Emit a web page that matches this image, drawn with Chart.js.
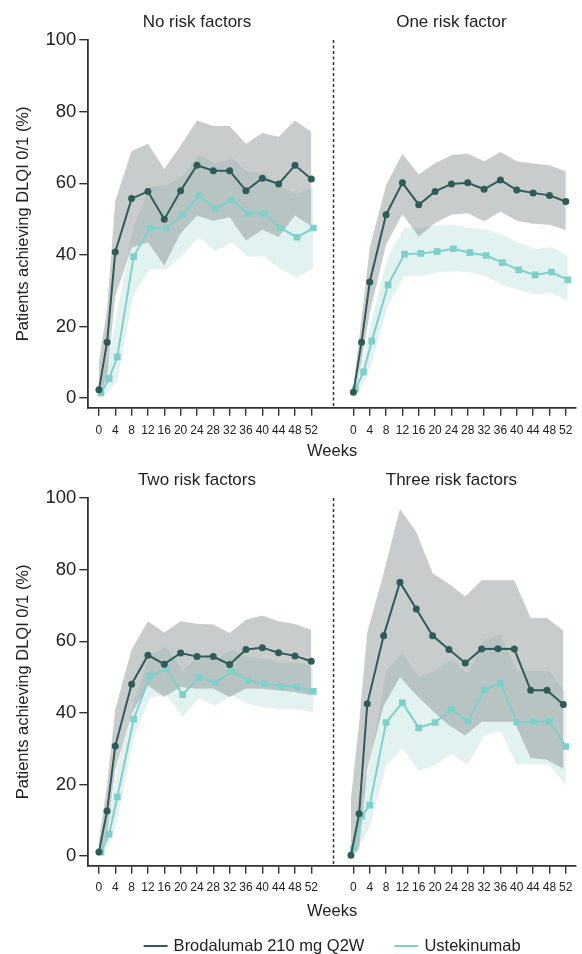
<!DOCTYPE html>
<html lang="en">
<head>
  <meta charset="UTF-8">
  <meta name="viewport" content="width=device-width, initial-scale=1.0">
  <title>DLQI 0/1 response by number of risk factors</title>
  <script src="https://cdn.jsdelivr.net/npm/chart.js@4"></script>
  <style>
    html, body { margin: 0; padding: 0; background: #fff; overflow: hidden; }
    .row { position: absolute; left: 0; width: 582px; }
    #row1 { top: 0; height: 460px; }
    #row2 { top: 458px; height: 496px; }
  </style>
</head>
<body>
  <div class="row" id="row1"><canvas id="topChart"></canvas></div>
  <div class="row" id="row2"><canvas id="bottomChart"></canvas></div>

  <script>
    // assessment weeks and axis ticks
    const weeks = [0, 2, 4, 8, 12, 16, 20, 24, 28, 32, 36, 40, 44, 48, 52];
    const weekTicks = [0, 4, 8, 12, 16, 20, 24, 28, 32, 36, 40, 44, 48, 52];
    const yTicks = [0, 20, 40, 60, 80, 100];

    const panelTitles = ['No risk factors', 'One risk factor', 'Two risk factors', 'Three risk factors'];
    const seriesNames = ['Brodalumab 210 mg Q2W', 'Ustekinumab'];

    // No risk factors
    const noneBrod   = [2.3, 15.6, 40.8, 55.7, 57.7, 49.9, 57.9, 65.0, 63.5, 63.5, 57.9, 61.4, 59.8, 65.0, 61.2];
    const noneBrodHi = [10, 25, 55, 69, 71, 64, 70.5, 77.5, 76, 76, 71, 74, 73, 77.5, 74.3];
    const noneBrodLo = [0, 6, 28.5, 42, 43.5, 37, 46, 51, 49.5, 50.5, 44, 47, 45, 51, 48];
    const noneUste   = [1.4, 5.4, 11.5, 39.5, 47.5, 47.5, 51.2, 56.5, 52.8, 55.3, 51.6, 51.6, 47.5, 44.9, 47.5];
    const noneUsteHi = [5, 12, 24, 48, 59, 59.5, 62, 68, 65.5, 67, 63, 63, 59, 57, 59];
    const noneUsteLo = [0, 2, 5, 29, 36, 36, 40, 45, 41, 43.5, 39.5, 39.5, 36, 33.7, 36.3];

    // One risk factor
    const oneBrod   = [1.6, 15.6, 32.4, 51.2, 60.1, 54.0, 57.7, 59.8, 60.1, 58.3, 60.9, 58.1, 57.3, 56.6, 54.9];
    const oneBrodHi = [3, 22, 42, 59.4, 68.2, 62.4, 65.6, 67.8, 68.2, 66.1, 68.7, 66.1, 65.5, 65, 63.3];
    const oneBrodLo = [0.5, 10, 23.8, 42.8, 51.4, 45.1, 48.9, 51.2, 51.7, 49.3, 52.1, 49.5, 48.7, 48.4, 46.9];
    const oneUste   = [2.5, 7.3, 15.9, 31.6, 40.2, 40.4, 40.9, 41.7, 40.6, 39.8, 37.8, 35.8, 34.4, 35.2, 33.0];
    const oneUsteHi = [3.5, 11, 22, 39.6, 47.6, 47.5, 48.1, 48.4, 47.5, 47, 45.6, 43.3, 41.6, 42.2, 39.6];
    const oneUsteLo = [1, 4, 10, 26, 34, 34, 35.1, 35.4, 35.1, 34, 31.6, 30.3, 28.9, 29.4, 27];

    // Two risk factors
    const twoBrod   = [1.1, 12.6, 30.7, 48.0, 56.1, 53.6, 56.7, 55.7, 55.7, 53.5, 57.7, 58.2, 56.8, 55.9, 54.4];
    const twoBrodHi = [4, 20, 41, 57.7, 65.6, 62.4, 65.6, 64.9, 64.7, 62.3, 66, 67.2, 65.6, 64.8, 63.2];
    const twoBrodLo = [0, 6, 24, 39.8, 47.7, 44.4, 47.2, 46.7, 46.8, 44.4, 46.8, 46.7, 46.2, 45.8, 44.9];
    const twoUste   = [1.1, 6.1, 16.5, 38.2, 50.3, 52.3, 45.1, 49.9, 48.4, 51.6, 49.1, 48.2, 47.5, 47.2, 46.0];
    const twoUsteHi = [3, 11, 25, 43, 56, 58.5, 51.7, 56, 55, 57.5, 55.5, 55, 54, 54, 52.8];
    const twoUsteLo = [0, 3, 10, 33, 44.2, 45, 38.8, 44.1, 42, 45, 42.5, 41.5, 41, 41, 40];

    // Three risk factors
    const threeBrod   = [0.2, 11.8, 42.5, 61.5, 76.5, 69.0, 61.5, 57.7, 53.9, 57.8, 57.9, 57.8, 46.3, 46.3, 42.3];
    const threeBrodHi = [16, 37, 62.5, 79, 97, 90.5, 79, 76, 72.5, 77, 77, 77, 66.5, 66.5, 63];
    const threeBrodLo = [0, 2, 24, 42, 50, 45, 40.6, 36.5, 33.7, 37.5, 37.5, 37.5, 27.4, 26.9, 24.4];
    const threeUste   = [2.1, 11.1, 14.2, 37.3, 42.8, 35.8, 37.3, 41.0, 37.6, 46.4, 48.3, 37.4, 37.6, 37.6, 30.6];
    const threeUsteHi = [5, 18, 25, 51.7, 56.7, 50, 51.9, 54.9, 50.9, 60.3, 62, 51.7, 51.7, 51.7, 45.4];
    const threeUsteLo = [0, 4, 8, 25.3, 30, 23.9, 25.3, 28.6, 25.6, 33.7, 34.9, 25.6, 25.6, 25.6, 19.7];

    // right-hand panel sits on the same x axis, shifted by SHIFT weeks
    const SHIFT = 62.3;
    const FONT = "'Liberation Sans', Arial, sans-serif";
    const colors = {
      brod: '#2f5b58',
      uste: '#7fcfca',
      brodBand: 'rgba(112, 122, 122, 0.38)',
      usteBand: '#e2f2f1',
      axis: '#333',
      text: '#222'
    };

    Chart.defaults.font.family = FONT;
    Chart.defaults.color = colors.text;
    Chart.defaults.animation = false;

    function pts(ys, dx) {
      return ys.map((y, i) => ({ x: weeks[i] + dx, y: y }));
    }

    function band(ys, dx, color, fill) {
      return {
        label: 'band', data: pts(ys, dx), pointRadius: 0, borderWidth: 0,
        borderColor: 'transparent', backgroundColor: color, fill: fill, tension: 0
      };
    }

    // one panel = two lines + two confidence bands
    function panelDatasets(p, shift) {
      const bx = shift + p.brodDx, ux = shift + p.usteDx;
      return [
        { label: seriesNames[0], data: pts(p.brod, bx), borderColor: colors.brod, backgroundColor: colors.brod,
          borderWidth: 2, pointRadius: 2.5, pointStyle: 'circle', fill: false, tension: 0 },
        { label: seriesNames[1], data: pts(p.uste, ux), borderColor: colors.uste, backgroundColor: colors.uste,
          borderWidth: 2, pointRadius: 3.3, pointStyle: 'rect', fill: false, tension: 0 },
        band(p.brodHi, bx, colors.brodBand, '+1'),
        band(p.brodLo, bx, colors.brodBand, false),
        band(p.usteHi, ux, colors.usteBand, '+1'),
        band(p.usteLo, ux, colors.usteBand, false)
      ];
    }

    // panel titles, centred over week 24 of each panel
    const titlePlugin = {
      id: 'panelTitles',
      afterDraw(chart, args, opts) {
        const { ctx } = chart;
        const x = chart.scales.x;
        ctx.save();
        ctx.font = '17px ' + FONT;
        ctx.fillStyle = colors.text;
        ctx.textAlign = 'center';
        ctx.textBaseline = 'middle';
        opts.titles.forEach((t, i) => ctx.fillText(t, x.getPixelForValue(24 + i * SHIFT), opts.y));
        ctx.restore();
      }
    };

    // dotted divider between the two panels
    const dividerPlugin = {
      id: 'divider',
      afterDatasetsDraw(chart) {
        const { ctx, chartArea } = chart;
        const px = Math.round(chart.scales.x.getPixelForValue(SHIFT - 5)) + 0.5;
        ctx.save();
        ctx.strokeStyle = colors.axis;
        ctx.lineWidth = 1.5;
        ctx.setLineDash([3, 2.5]);
        ctx.beginPath();
        ctx.moveTo(px, chartArea.top);
        ctx.lineTo(px, chartArea.bottom);
        ctx.stroke();
        ctx.restore();
      }
    };

    // legend at the foot of the figure (two line keys)
    const legendPlugin = {
      id: 'footLegend',
      afterDraw(chart, args, opts) {
        if (!opts.show) return;
        const { ctx, chartArea } = chart;
        ctx.save();
        ctx.font = '16.5px ' + FONT;
        const keyW = 24, keyGap = 6, itemGap = 30;
        const widths = seriesNames.map(s => keyW + keyGap + ctx.measureText(s).width);
        const total = widths[0] + itemGap + widths[1];
        let x = (chartArea.left + chartArea.right) / 2 - total / 2;
        const y = opts.y;
        [colors.brod, colors.uste].forEach((c, i) => {
          ctx.fillStyle = c;
          ctx.fillRect(x, y - 1, keyW, 2);
          ctx.fillStyle = colors.text;
          ctx.textAlign = 'left';
          ctx.textBaseline = 'middle';
          ctx.fillText(seriesNames[i], x + keyW + keyGap, y);
          x += widths[i] + itemGap;
        });
        ctx.restore();
      }
    };

    function makeRow(canvasId, left, right, titles, cfg) {
      const ctx = document.getElementById(canvasId).getContext('2d');
      return new Chart(ctx, {
        type: 'line',
        data: { datasets: [...panelDatasets(left, 0), ...panelDatasets(right, SHIFT)] },
        plugins: [titlePlugin, dividerPlugin, legendPlugin],
        options: {
          responsive: true,
          maintainAspectRatio: false,
          layout: { padding: { top: 40, left: 0, right: 0, bottom: cfg.bottomPad } },
          plugins: {
            legend: { display: false },
            tooltip: { enabled: false },
            panelTitles: { titles: titles, y: 22.5 },
            footLegend: { show: cfg.legend, y: 488 }
          },
          scales: {
            x: {
              type: 'linear',
              bounds: 'data',
              min: -2.6,
              max: 116.8,
              afterBuildTicks: s => { s.ticks = [...weekTicks, ...weekTicks.map(w => w + SHIFT)].map(v => ({ value: v })); },
              afterFit: s => { s.height = 52.3; },
              ticks: {
                autoSkip: false, maxRotation: 0, padding: cfg.tickPad,
                font: { size: 12 }, color: colors.text,
                callback: v => v > SHIFT - 6 ? Math.round(v - SHIFT) : v
              },
              grid: { drawOnChartArea: false, tickLength: 8, color: colors.axis, lineWidth: 1.4 },
              border: { color: colors.axis, width: 1.8 },
              title: { display: true, text: 'Weeks', color: colors.text,
                       font: { size: 16.5, lineHeight: cfg.weeksLH }, padding: 0 }
            },
            y: {
              min: -2.7,
              max: 100,
              afterBuildTicks: s => { s.ticks = yTicks.map(v => ({ value: v })); },
              afterFit: s => { s.width = 88.3; },
              ticks: { padding: 3, font: { size: 18.5 }, color: colors.text },
              grid: { drawOnChartArea: false, tickLength: 9, color: colors.axis, lineWidth: 1.4 },
              border: { color: colors.axis, width: 1.8 },
              title: { display: true, text: 'Patients achieving DLQI 0/1 (%)', color: colors.text,
                       font: { size: 16.5 }, padding: { top: 14 } }
            }
          }
        }
      });
    }

    const none  = { brod: noneBrod, brodHi: noneBrodHi, brodLo: noneBrodLo, uste: noneUste, usteHi: noneUsteHi, usteLo: noneUsteLo, brodDx: 0, usteDx: 0.5 };
    const one   = { brod: oneBrod, brodHi: oneBrodHi, brodLo: oneBrodLo, uste: oneUste, usteHi: oneUsteHi, usteLo: oneUsteLo, brodDx: 0, usteDx: 0.5 };
    const two   = { brod: twoBrod, brodHi: twoBrodHi, brodLo: twoBrodLo, uste: twoUste, usteHi: twoUsteHi, usteLo: twoUsteLo, brodDx: 0, usteDx: 0.5 };
    const three = { brod: threeBrod, brodHi: threeBrodHi, brodLo: threeBrodLo, uste: threeUste, usteHi: threeUsteHi, usteLo: threeUsteLo, brodDx: -0.6, usteDx: 0 };

    makeRow('topChart', none, one, panelTitles.slice(0, 2), { bottomPad: 0, tickPad: 7.5, weeksLH: 1, legend: false });
    makeRow('bottomChart', two, three, panelTitles.slice(2, 4), { bottomPad: 36, tickPad: 6.5, weeksLH: 0.76, legend: true });
  </script>
</body>
</html>
